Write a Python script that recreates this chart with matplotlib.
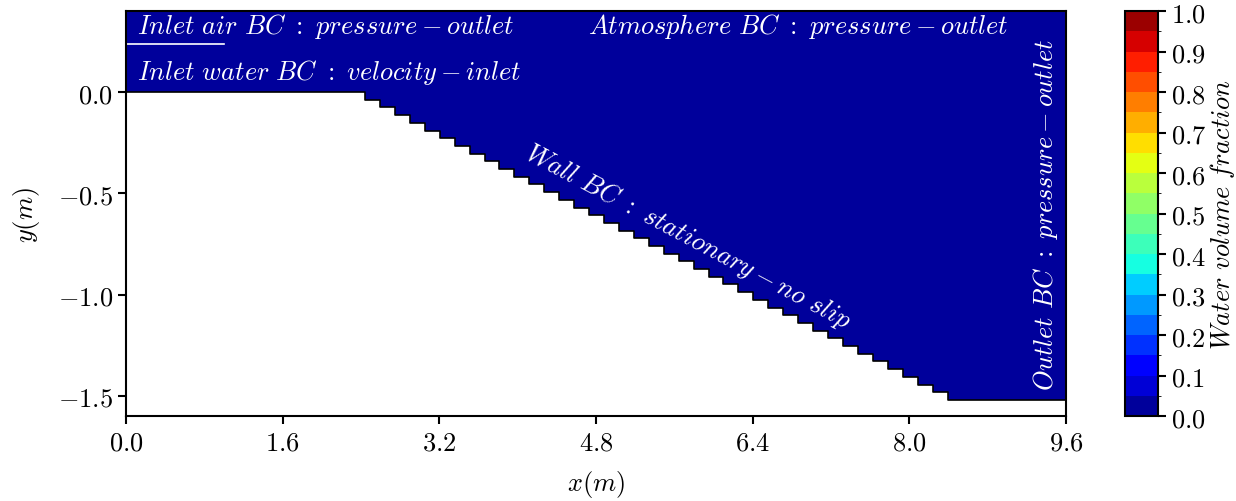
import numpy as np
import matplotlib
matplotlib.use("Agg")
import matplotlib.pyplot as plt
from matplotlib.colors import BoundaryNorm, ListedColormap
from matplotlib.cm import ScalarMappable
from matplotlib.ticker import FuncFormatter

plt.rcParams["mathtext.fontset"] = "cm"
plt.rcParams["font.family"] = "DejaVu Serif"

# Stepped spillway bed: x positions of each step edge and the level after it
bed_x = [0.0, 2.440, 2.593, 2.745, 2.898, 3.050, 3.203, 3.355, 3.508, 3.661, 3.813,
         3.966, 4.118, 4.271, 4.423, 4.576, 4.728, 4.881, 5.034, 5.186, 5.339,
         5.491, 5.644, 5.796, 5.949, 6.101, 6.254, 6.407, 6.559, 6.712, 6.864,
         7.017, 7.169, 7.322, 7.474, 7.627, 7.780, 7.932, 8.085, 8.237, 8.390, 9.6]
bed_y = [0.0, -0.038, -0.076, -0.114, -0.152, -0.190, -0.228, -0.266, -0.304, -0.342,
         -0.380, -0.418, -0.456, -0.494, -0.532, -0.570, -0.608, -0.646, -0.684,
         -0.722, -0.760, -0.798, -0.836, -0.874, -0.912, -0.950, -0.988, -1.026,
         -1.064, -1.102, -1.140, -1.178, -1.216, -1.254, -1.292, -1.330, -1.368,
         -1.406, -1.444, -1.482, -1.520, -1.520]

water_fraction = 0.0          # initial state: domain filled with air
domain_top = 0.4
levels = np.linspace(0.0, 1.0, 21)
cbar_ticks = [0.0, 0.1, 0.2, 0.3, 0.4, 0.5, 0.6, 0.7, 0.8, 0.9, 1.0]
x_ticks = [0.0, 1.6, 3.2, 4.8, 6.4, 8.0, 9.6]
y_ticks = [0.0, -0.5, -1.0, -1.5]

FS = 19

mids = 0.5 * (levels[:-1] + levels[1:])
cmap = ListedColormap(plt.cm.jet(mids))
norm = BoundaryNorm(levels, cmap.N)

fig = plt.figure(figsize=(12.36, 5.02), dpi=100)
ax = fig.add_axes([0.102, 0.169, 0.7605, 0.807])
cax = fig.add_axes([0.910, 0.169, 0.0267, 0.807])

ax.fill_between(bed_x, bed_y, domain_top, step="post",
                color=cmap(norm(water_fraction)), linewidth=0)
ax.step(bed_x, bed_y, where="post", color="black", lw=1.2)

ax.set_xlim(0, 9.6)
ax.set_ylim(-1.6, 0.4)
ax.set_xticks(x_ticks)
ax.set_yticks(y_ticks)
fmt = FuncFormatter(lambda v, p: f"${v:.1f}$")
ax.xaxis.set_major_formatter(fmt)
ax.yaxis.set_major_formatter(fmt)
ax.tick_params(labelsize=FS, length=6, width=1.5, direction="out")
for s in ax.spines.values():
    s.set_linewidth(1.5)
ax.set_xlabel(r"$x(m)$", fontsize=FS, labelpad=10)
ax.set_ylabel(r"$y(m)$", fontsize=FS, labelpad=11)

tkw = dict(color="white", fontsize=FS)
ax.text(0.11, 0.33, r"$Inlet\ air\ BC\ :\ pressure-outlet$", ha="left", va="center", **tkw)
ax.plot([0.0, 1.0], [0.238, 0.238], color="white", lw=1.2)
ax.text(0.11, 0.10, r"$Inlet\ water\ BC\ :\ velocity-inlet$", ha="left", va="center", **tkw)
ax.text(4.72, 0.33, r"$Atmosphere\ BC\ :\ pressure-outlet$", ha="left", va="center", **tkw)
ax.text(5.74, -0.71, r"$Wall\ BC\ :\ stationary-no\ slip$", ha="center", va="center",
        rotation=-28, rotation_mode="anchor", **tkw)
ax.text(9.39, -0.60, r"$Outlet\ BC\ :\ pressure-outlet$", ha="center", va="center",
        rotation=90, **tkw)

sm = ScalarMappable(norm=norm, cmap=cmap)
cb = fig.colorbar(sm, cax=cax, boundaries=levels, ticks=cbar_ticks)
cb.ax.yaxis.set_major_formatter(fmt)
cb.ax.tick_params(labelsize=FS, length=6, width=1.5)
cb.outline.set_linewidth(1.5)
cb.set_label(r"$Water\ volume\ fraction$", fontsize=FS, labelpad=1)

fig.savefig("out.png", dpi=100)
